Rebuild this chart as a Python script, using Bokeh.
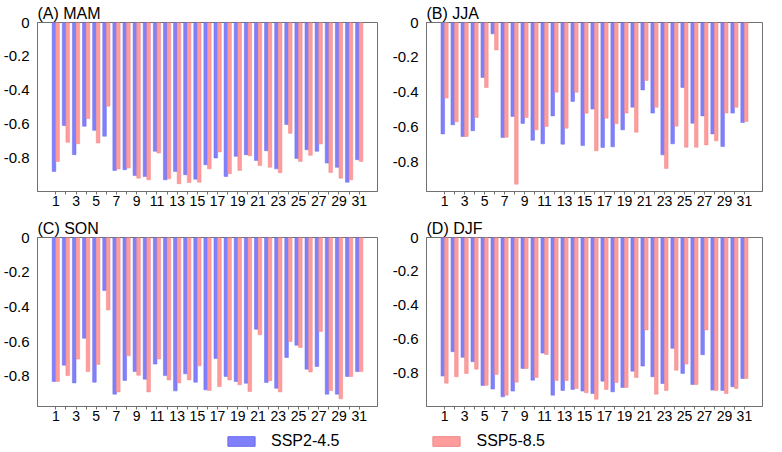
from bokeh.plotting import figure
from bokeh.models import (FixedTicker, CustomJSTickFormatter, Legend, Title,
                          LegendItem, Range1d, ColumnDataSource)
from bokeh.layouts import column, row
from bokeh.transform import dodge
from bokeh.embed import file_html
from bokeh.resources import INLINE

days = list(range(1, 32))

mam_245 = [-0.881, -0.610, -0.782, -0.614, -0.638, -0.673, -0.875, -0.871, -0.905, -0.911,
           -0.762, -0.931, -0.881, -0.901, -0.927, -0.842, -0.802, -0.911, -0.792, -0.782,
           -0.816, -0.759, -0.866, -0.604, -0.804, -0.753, -0.762, -0.832, -0.857, -0.945, -0.812]
mam_585 = [-0.822, -0.709, -0.717, -0.568, -0.713, -0.495, -0.867, -0.861, -0.921, -0.931,
           -0.772, -0.925, -0.954, -0.947, -0.945, -0.866, -0.766, -0.895, -0.875, -0.788,
           -0.846, -0.856, -0.889, -0.656, -0.822, -0.786, -0.719, -0.887, -0.921, -0.931, -0.822]

jja_245 = [-0.638, -0.586, -0.653, -0.620, -0.315, -0.065, -0.659, -0.538, -0.578, -0.674,
           -0.695, -0.535, -0.697, -0.452, -0.705, -0.496, -0.716, -0.712, -0.615, -0.485,
           -0.386, -0.519, -0.758, -0.695, -0.372, -0.577, -0.535, -0.638, -0.710, -0.519, -0.573]
jja_585 = [-0.433, -0.569, -0.653, -0.544, -0.372, -0.157, -0.657, -0.926, -0.544, -0.615,
           -0.596, -0.399, -0.605, -0.399, -0.520, -0.735, -0.548, -0.580, -0.519, -0.628,
           -0.332, -0.485, -0.836, -0.594, -0.714, -0.714, -0.701, -0.678, -0.519, -0.485, -0.567]

son_245 = [-0.829, -0.735, -0.837, -0.580, -0.833, -0.305, -0.902, -0.823, -0.772, -0.816,
           -0.729, -0.795, -0.883, -0.785, -0.833, -0.877, -0.697, -0.800, -0.829, -0.839,
           -0.528, -0.835, -0.868, -0.691, -0.620, -0.758, -0.743, -0.902, -0.902, -0.800, -0.772]
son_585 = [-0.829, -0.795, -0.700, -0.772, -0.731, -0.417, -0.889, -0.681, -0.793, -0.889,
           -0.699, -0.820, -0.837, -0.820, -0.739, -0.881, -0.858, -0.820, -0.848, -0.887,
           -0.560, -0.825, -0.889, -0.599, -0.633, -0.774, -0.541, -0.881, -0.929, -0.800, -0.772]

djf_245 = [-0.820, -0.676, -0.709, -0.735, -0.875, -0.897, -0.943, -0.909, -0.775, -0.844,
           -0.684, -0.933, -0.905, -0.899, -0.909, -0.923, -0.850, -0.913, -0.887, -0.791,
           -0.761, -0.824, -0.864, -0.656, -0.804, -0.870, -0.694, -0.903, -0.905, -0.883, -0.834]
djf_585 = [-0.862, -0.824, -0.804, -0.779, -0.874, -0.810, -0.933, -0.856, -0.775, -0.828,
           -0.692, -0.846, -0.846, -0.893, -0.919, -0.957, -0.899, -0.858, -0.887, -0.828,
           -0.547, -0.927, -0.905, -0.785, -0.749, -0.870, -0.547, -0.905, -0.923, -0.893, -0.834]

y_ticks = [-0.8, -0.6, -0.4, -0.2, 0]
series_names = ["SSP2-4.5", "SSP5-8.5"]

BLUE = "#8080fb"
BLUE_EDGE = "#6c6cec"
PINK = "#ff9c9c"
PINK_EDGE = "#f08686"
AXIS_COL = "#707070"
FONT = "Liberation Sans"


def make_panel(title, v245, v585, ymin, width, height, left, right, top, bottom):
    src = ColumnDataSource(dict(day=days, a=v245, b=v585))
    p = figure(width=width, height=height, x_range=Range1d(-0.81, 32.81),
               y_range=Range1d(ymin, 0), output_backend="svg", toolbar_location=None,
               min_border_left=left, min_border_right=right,
               min_border_top=top, min_border_bottom=bottom)
    p.vbar(x=dodge("day", -0.18, range=p.x_range), width=0.36, top=0, bottom="a",
           source=src, fill_color=BLUE, line_color=BLUE_EDGE, line_width=0.5)
    p.vbar(x=dodge("day", 0.18, range=p.x_range), width=0.36, top=0, bottom="b",
           source=src, fill_color=PINK, line_color=PINK_EDGE, line_width=0.5)
    p.xgrid.visible = False
    p.ygrid.visible = False
    p.outline_line_color = AXIS_COL
    p.outline_line_width = 1

    p.xaxis.ticker = FixedTicker(ticks=days)
    p.xaxis.formatter = CustomJSTickFormatter(code="return (tick % 2 == 1) ? String(tick) : '';")
    p.xaxis.major_tick_out = 3
    p.xaxis.major_tick_in = 0
    p.xaxis.minor_tick_line_color = None
    p.xaxis.major_label_standoff = 1
    p.xaxis.major_label_text_font_size = "14px"
    p.xaxis.major_tick_line_color = AXIS_COL

    p.yaxis.ticker = FixedTicker(ticks=y_ticks)
    p.yaxis.formatter = CustomJSTickFormatter(code="return tick === 0 ? '0' : tick.toFixed(1);")
    p.yaxis.major_tick_line_color = None
    p.yaxis.minor_tick_line_color = None
    p.yaxis.major_label_standoff = 2
    p.yaxis.major_label_text_font_size = "15px"

    for ax in (p.xaxis, p.yaxis):
        ax.axis_line_color = AXIS_COL
        ax.major_label_text_color = "black"
        ax.major_label_text_font = FONT

    p.add_layout(Title(text=title, align="left", text_font=FONT, text_font_size="16px",
                       text_font_style="normal", text_color="black",
                       standoff=1, offset=0), "above")
    return p


pA = make_panel("(A) MAM", mam_245, mam_585, -1.0, 389, 217, 29, 12, 22, 26)
pB = make_panel("(B) JJA", jja_245, jja_585, -0.968, 377, 217, 29, 4, 22, 26)
pC = make_panel("(C) SON", son_245, son_585, -0.973, 389, 215, 29, 12, 20, 26)
pD = make_panel("(D) DJF", djf_245, djf_585, -1.0, 377, 215, 29, 4, 20, 26)

pL = figure(width=766, height=18, x_range=(0, 1), y_range=(0, 1),
            output_backend="svg", toolbar_location=None, min_border=0,
            outline_line_color=None)
pL.axis.visible = False
pL.xgrid.visible = False
pL.ygrid.visible = False
r1 = pL.vbar(x=[5], top=[5], width=0.1, fill_color=BLUE, line_color=BLUE_EDGE)
r2 = pL.vbar(x=[5], top=[5], width=0.1, fill_color=PINK, line_color=PINK_EDGE)
leg = Legend(items=[LegendItem(label=series_names[0], renderers=[r1]),
                    LegendItem(label=series_names[1], renderers=[r2])],
             orientation="horizontal", location=(224, 0),
             glyph_width=34, glyph_height=12, label_height=16, label_standoff=13,
             spacing=90, padding=0, margin=0, border_line_color=None,
             background_fill_alpha=0, label_text_font=FONT,
             label_text_font_size="16px", label_text_color="black")
pL.add_layout(leg)

layout = column(row(pA, pB), row(pC, pD), pL)

open("out.html", "w").write(file_html(layout, INLINE))
